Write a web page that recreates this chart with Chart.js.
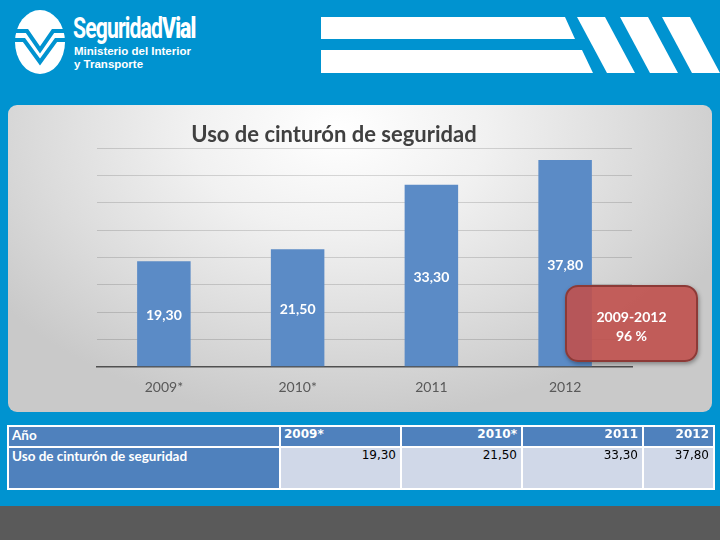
<!DOCTYPE html>
<html>
<head>
<meta charset="utf-8">
<script src="https://cdn.jsdelivr.net/npm/chart.js@4.4.1/dist/chart.umd.min.js"></script>
<style>
  html,body{margin:0;padding:0;}
  body{width:720px;height:540px;position:relative;overflow:hidden;background:#0093D0;font-family:Lato,"Open Sans",sans-serif;}
  #footer{position:absolute;left:0;top:506px;width:720px;height:34px;background:#5a5a5a;}
  #panel{position:absolute;left:8px;top:105px;width:704px;height:307px;border-radius:9px;
    background:radial-gradient(ellipse 60% 95% at 47% 8%, #ffffff 0%, #f1f1f1 35%, #dcdcdc 70%, #c9c9c9 100%);}
  #chartbox{position:absolute;left:8px;top:105px;width:704px;height:307px;}
  #title{position:absolute;left:0;top:120px;width:668px;text-align:center;font:bold 22px Lato,sans-serif;color:#404040;}
  #callout{position:absolute;left:565px;top:285px;width:133px;height:77px;border-radius:13px;
    background:rgba(192,80,77,0.9);border:2px solid #8c3a37;box-shadow:1px 2px 4px rgba(0,0,0,0.35);
    color:#fff;font:bold 14px Lato,sans-serif;text-align:center;box-sizing:border-box;padding-top:20px;line-height:19px;}
  #tbl{position:absolute;left:7px;top:425px;border-collapse:collapse;table-layout:fixed;width:706px;}
  #tbl td{border:2px solid #fff;padding:0 4px;overflow:hidden;white-space:nowrap;vertical-align:top;}
  #tbl tr.h td{height:19px;line-height:19px;background:#4f81bd;color:#fff;font:bold 12px "DejaVu Sans",sans-serif;text-align:right;}
  #tbl tr.d td{height:40px;line-height:20px;background:#d0d8e8;color:#000;font:12px "DejaVu Sans",sans-serif;text-align:right;}
  #tbl tr td.lab{background:#4f81bd;color:#fff;font:bold 13.5px Lato,sans-serif;text-align:left;padding-left:3px;}
  #tbl tr.h td.left{text-align:left;padding-left:3px;}
  #logo{position:absolute;left:0;top:0;}
  .lt{position:absolute;color:#fff;white-space:nowrap;}
</style>
</head>
<body>
<svg id="logo" width="720" height="100">
  <ellipse cx="40" cy="42" rx="25" ry="32" fill="#fff"/>
  <polyline points="14,31 27,31 40,50 53,31 66,31" fill="none" stroke="#0093D0" stroke-width="4"/>
  <polyline points="14,40 24,40 40,62 56,40 66,40" fill="none" stroke="#0093D0" stroke-width="4"/>
  <polygon points="321,17 565,17 575,39 321,39" fill="#fff"/>
  <polygon points="321,50 582,50 593,73 321,73" fill="#fff"/>
  <polygon points="577,17 605,17 635,73 607,73" fill="#fff"/>
  <polygon points="620,17 648,17 678,73 650,73" fill="#fff"/>
  <polygon points="662,17 690,17 720,73 692,73" fill="#fff"/>
</svg>
<div class="lt" style="left:73px;top:11px;font:bold 29px 'Liberation Sans Narrow','Roboto',sans-serif;letter-spacing:-1.2px;transform:scaleX(0.73);transform-origin:left top;">Seguridad<span style="font-weight:900">Vial</span></div>
<div class="lt" style="left:74px;top:45px;font:bold 11.5px 'Liberation Sans',sans-serif;">Ministerio del Interior</div>
<div class="lt" style="left:74px;top:58px;font:bold 11.5px 'Liberation Sans',sans-serif;">y Transporte</div>
<div id="footer"></div>
<div id="panel"></div>
<div id="chartbox"><canvas id="c" width="704" height="307"></canvas></div>
<div id="title">Uso de cinturón de seguridad</div>
<div id="callout">2009-2012<br>96 %</div>
<table id="tbl"></table>
<script>
const chartTitle = "Uso de cinturón de seguridad";
const rowHeaderYear = "Año";
const categories = ["2009*", "2010*", "2011", "2012"];
const values = [19.30, 21.50, 33.30, 37.80];
const valueLabels = ["19,30", "21,50", "33,30", "37,80"];
const yMin = 0, yMax = 40, yStep = 5;

// table built from the arrays
const tbl = document.getElementById('tbl');
const colWidths = [272, 121, 121, 121, 71];
let html = '<colgroup>' + colWidths.map(w => '<col style="width:' + w + 'px">').join('') + '</colgroup>';
html += '<tr class="h"><td class="lab">' + rowHeaderYear + '</td>' +
  categories.map((c, i) => '<td' + (i === 0 ? ' class="left"' : '') + '>' + c + '</td>').join('') + '</tr>';
html += '<tr class="d"><td class="lab">' + chartTitle + '</td>' +
  valueLabels.map(v => '<td>' + v + '</td>').join('') + '</tr>';
tbl.innerHTML = html;

const labelPlugin = {
  id: 'barLabels',
  afterDatasetsDraw(chart) {
    const ctx = chart.ctx;
    const meta = chart.getDatasetMeta(0);
    ctx.save();
    ctx.fillStyle = '#ffffff';
    ctx.font = 'bold 14px Lato, sans-serif';
    ctx.textAlign = 'center';
    ctx.textBaseline = 'middle';
    meta.data.forEach((bar, i) => {
      const p = bar.getCenterPoint();
      ctx.fillText(valueLabels[i], p.x, p.y + 2);
    });
    ctx.restore();
  }
};

new Chart(document.getElementById('c'), {
  type: 'bar',
  data: {
    labels: categories,
    datasets: [{
      data: values,
      backgroundColor: '#5b8bc6',
      borderWidth: 0,
      categoryPercentage: 0.8,
      barPercentage: 0.5
    }]
  },
  options: {
    responsive: false,
    animation: false,
    devicePixelRatio: 1,
    layout: { padding: { left: 89, right: 80, top: 43, bottom: 0 } },
    plugins: { legend: { display: false }, title: { display: false }, tooltip: { enabled: false } },
    scales: {
      x: {
        grid: { display: false, drawTicks: false },
        border: { display: true, color: '#505050', width: 1.5 },
        ticks: { color: '#595959', font: { family: 'Lato', size: 14 }, padding: 12 },
        afterFit(scale) { scale.height = 45.3; }
      },
      y: {
        min: yMin, max: yMax,
        ticks: { display: false, stepSize: yStep },
        grid: { color: 'rgba(0,0,0,0.14)', drawTicks: false, lineWidth: 1 },
        border: { display: false },
        afterFit(scale) { scale.width = 0; }
      }
    }
  },
  plugins: [labelPlugin]
});
</script>
</body>
</html>
